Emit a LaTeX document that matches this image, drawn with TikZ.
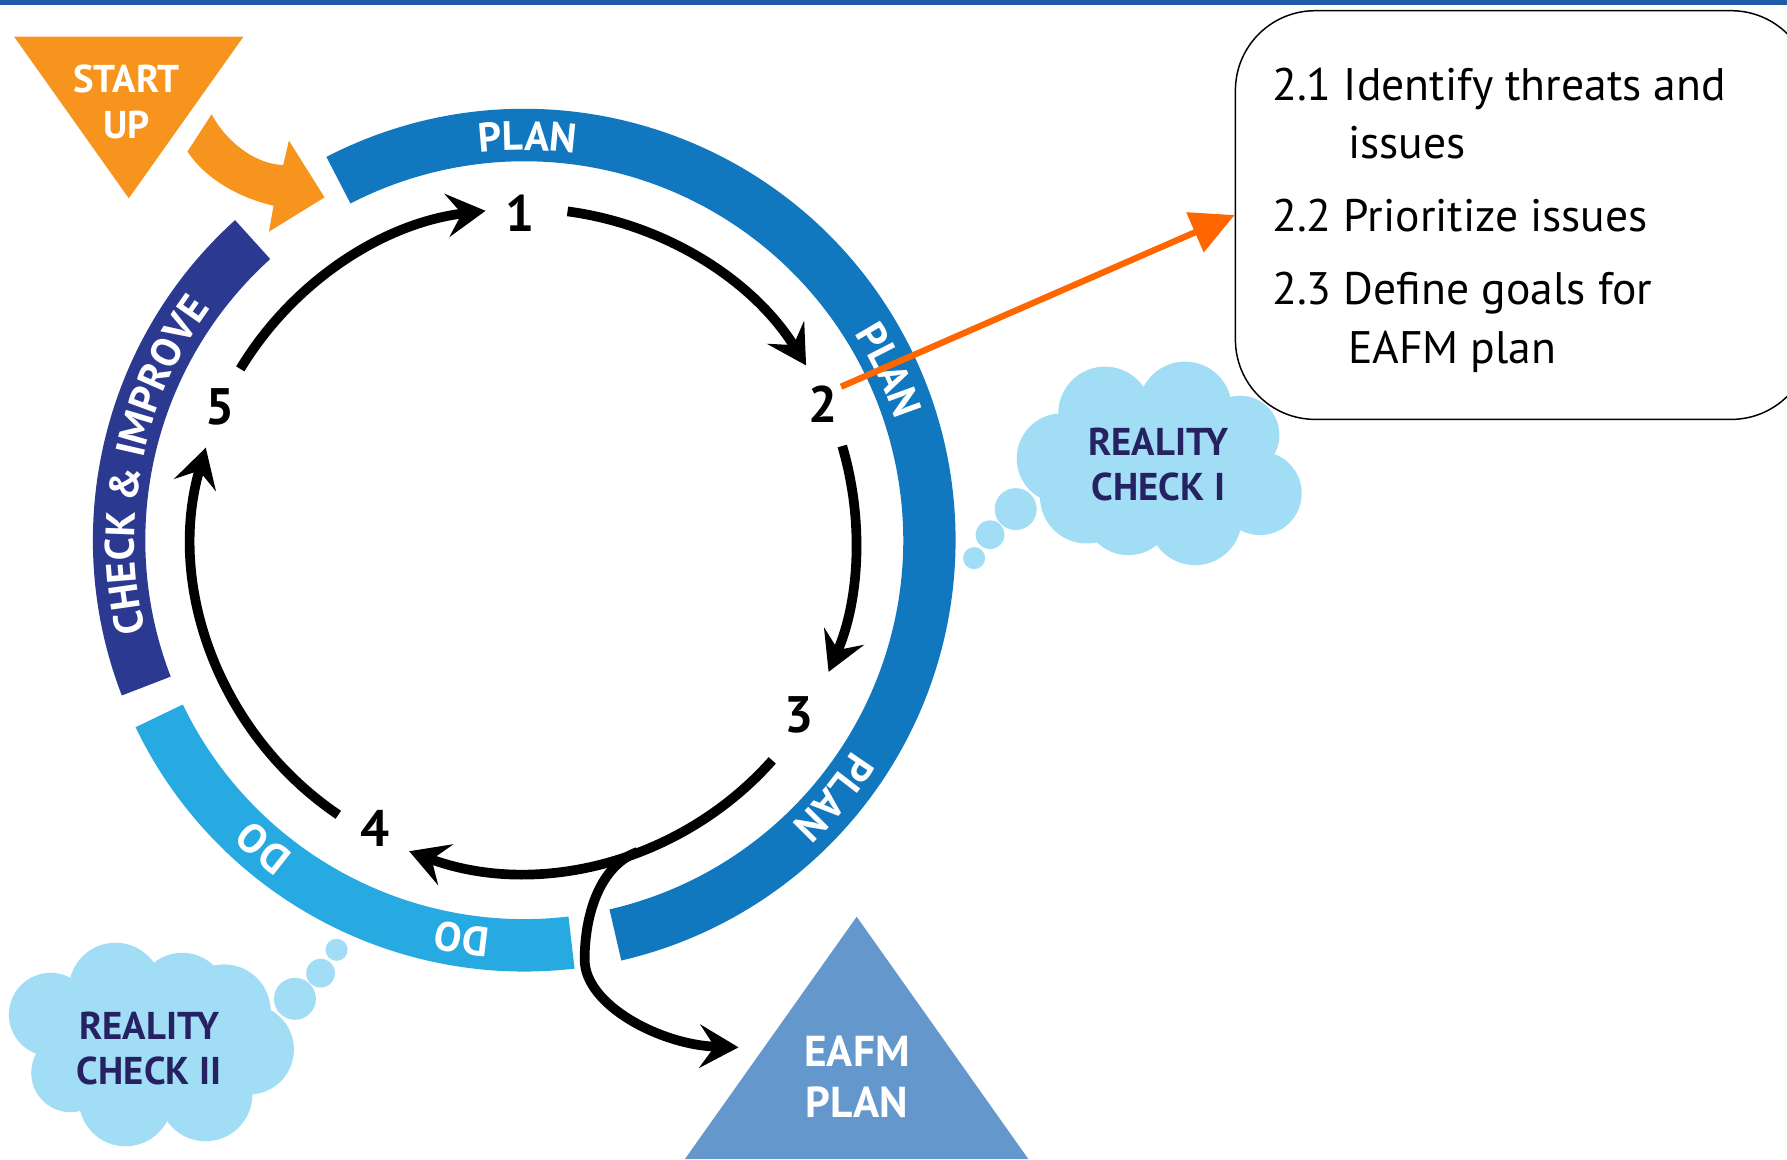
\documentclass[tikz,border=0pt]{standalone}
\usepackage{fontspec}
\setmainfont{PT Sans}
\usetikzlibrary{arrows.meta,decorations.text}
\definecolor{planblue}{HTML}{1177BE}
\definecolor{doblue}{HTML}{27AAE1}
\definecolor{checkblue}{HTML}{2B3990}
\definecolor{startorange}{HTML}{F7941D}
\definecolor{cloudblue}{HTML}{A2DDF6}
\definecolor{cloudtext}{HTML}{262262}
\definecolor{eafmblue}{HTML}{6497CC}
\definecolor{linkorange}{HTML}{FF6600}
\definecolor{topband}{HTML}{1E5BA8}
\newcommand\ringfont{\fontsize{36}{36}\selectfont\bfseries}
\newcommand\ringlabel[3]{%
  \pgfmathsetmacro\rlA{#1+#2}\pgfmathsetmacro\rlB{#1-#2}%
  \path[decorate,decoration={text along path,text align=center,text color=white,text={|\ringfont|#3}}]
    (\rlA:342) arc[start angle=\rlA,end angle=\rlB,radius=342];}
\newcommand\cloudbody{%
  \fill[cloudblue] (-85.4,4.4) circle[radius=39.5] (-47.4,43.9) circle[radius=41]
    (22.8,48.3) circle[radius=41] (71.1,24.9) circle[radius=34.5]
    (88.6,-26.3) circle[radius=36.6] (31.6,-48.3) circle[radius=41]
    (-26.9,-41) circle[radius=39.5] (-63.5,-29.3) circle[radius=41]
    (0.9,0) ellipse[x radius=80,y radius=50]
    (-125.8,-40.1) circle[radius=18.4] (-148.3,-62.6) circle[radius=12.6]
    (-162.3,-83.1) circle[radius=9.7];}
\begin{document}
\begin{tikzpicture}[x=1pt,y=1pt,
  cyclearrow/.style={line width=8.5pt,-{Stealth[length=34pt,width=38pt,inset=13pt]}},
  linkarrow/.style={draw=linkorange,line width=5.5pt,-{Triangle[length=38pt,width=37pt]}},
  numlabel/.style={font=\fontsize{45}{45}\selectfont\bfseries,inner sep=0pt},
  boxtext/.style={font=\fontsize{40}{40}\selectfont,inner sep=0pt,anchor=base west},
  whitelabel/.style={font=\fontsize{34}{34}\selectfont\bfseries,text=white,inner sep=0pt},
  eafmlabel/.style={font=\fontsize{38}{38}\selectfont\bfseries,text=white,inner sep=0pt},
  cloudlabel/.style={font=\fontsize{34}{34}\selectfont\bfseries,text=cloudtext,inner sep=0pt}]
\useasboundingbox (0,0) rectangle (1568,1017);
\clip (0,0) rectangle (1568,1017);
\fill[white] (0,0) rectangle (1568,1017);
\fill[topband] (0,1012.5) rectangle (1568,1017);

% clouds
\begin{scope}[shift={(1017,610.4)}]\cloudbody\end{scope}
\begin{scope}[shift={(133,100.5)},rotate=180]\cloudbody\end{scope}
\node[cloudlabel] (rc1a) at (1016.4,629.4) {REALITY};
\node[cloudlabel] (rc1b) at (1016.4,589.9) {CHECK I};
\node[cloudlabel] (rc2a) at (131,117) {REALITY};
\node[cloudlabel] (rc2b) at (131,77) {CHECK II};

% text box
\node[draw=black,line width=1.3pt,rounded corners=70pt,minimum width=505pt,minimum height=358.6pt,inner sep=0pt] (box) at (1336.5,828.3) {};
\node[boxtext] (t1) at (1116.2,929.2) {2.1 Identify threats and};
\node[boxtext] (t1b) at (1182.6,878) {issues};
\node[boxtext] (t2) at (1116.2,814) {2.2 Prioritize issues};
\node[boxtext] (t3) at (1116.2,749.4) {2.3 Define goals for};
\node[boxtext] (t3b) at (1182.6,698.2) {EAFM plan};

% start up
\fill[startorange] (12.4,984.8) -- (213.6,984.8) -- (113,843) -- cycle;
\node[whitelabel] (st1) at (111,947.5) {START};
\node[whitelabel] (st2) at (111,907) {UP};
\fill[startorange] (185.7,916.7) .. controls (197,895) and (222,873) .. (248.5,872.2)
  -- (253.5,893.6) -- (284.8,843.8) -- (236,813.7) -- (240,836.5)
  .. controls (212,843) and (182,858) .. (164.5,884) -- cycle;

% EAFM plan
\fill[eafmblue] (751.7,212.6) -- (902.3,0) -- (601,0) -- cycle;
\node[eafmlabel] (eafm1) at (752,95) {EAFM};
\node[eafmlabel] (eafm2) at (752,49.5) {PLAN};

% ring
\begin{scope}[shift={(460,543)}]
\fill[planblue] (117.3:378.5) arc[start angle=117.3,end angle=-77,radius=378.5]
  -- (-77:332.5) arc[start angle=-77,end angle=117.3,radius=332.5] -- cycle;
\fill[doblue] (205.7:378.5) arc[start angle=205.7,end angle=276.7,radius=378.5]
  -- (276.7:332.5) arc[start angle=276.7,end angle=205.7,radius=332.5] -- cycle;
\fill[checkblue] (132.1:378.5) arc[start angle=132.1,end angle=201.1,radius=378.5]
  -- (201.1:332.5) arc[start angle=201.1,end angle=132.1,radius=332.5] -- cycle;
\ringlabel{89.5}{30}{PLAN}
\ringlabel{25}{25}{PLAN}
\ringlabel{-39.7}{25}{PLAN}
\ringlabel{168.5}{33}{CHECK {\&} IMPROVE}
\ringlabel{229.7}{20}{DO}
\ringlabel{261.1}{12}{DO}
\end{scope}

% numbers
\node[numlabel] (n1) at (456.7,829.8) {1};
\node[numlabel] (n2) at (722,662) {2};
\node[numlabel] (n3) at (701,390) {3};
\node[numlabel] (n4) at (329,290) {4};
\node[numlabel] (n5) at (193,660) {5};

% cycle arrows
\coordinate (a12) at ([shift={(460,543)}]82.5:291);
\coordinate (a23) at ([shift={(460,543)}]16.5:291);
\coordinate (a34) at ([shift={(460,543)}]-41.6:291);
\coordinate (a45) at ([shift={(460,543)}]235.9:291);
\coordinate (a51) at ([shift={(460,543)}]148.9:291);
\coordinate (fork) at ([shift={(460,543)}]-70:291);
\coordinate (eafmtip) at (648,98);
\draw[cyclearrow] (a12) arc[start angle=82.5,end angle=31.8,radius=291];
\draw[cyclearrow] (a23) arc[start angle=16.5,end angle=-23.4,radius=291];
\draw[cyclearrow] (a34) arc[start angle=-41.6,end angle=-110.3,radius=291];
\draw[cyclearrow] (a45) arc[start angle=235.9,end angle=163.8,radius=291];
\draw[cyclearrow] (a51) arc[start angle=148.9,end angle=96.7,radius=291];
\draw[cyclearrow] (fork) .. controls (526.6,257.6) and (513,215) .. (513,175)
  .. controls (513,135) and (580,100) .. (eafmtip);

% orange link
\coordinate (o2) at (738,677.7);
\draw[linkarrow] (o2) -- (box.west);
\end{tikzpicture}
\end{document}
